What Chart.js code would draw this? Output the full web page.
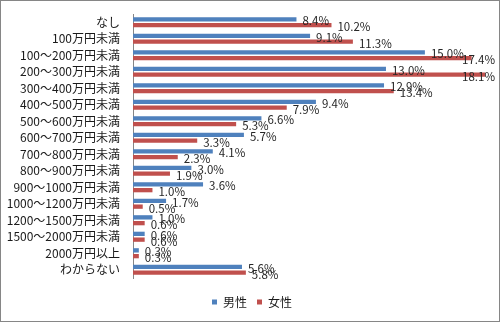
<!DOCTYPE html>
<html><head><meta charset="utf-8">
<script src="https://cdn.jsdelivr.net/npm/chart.js@4/dist/chart.umd.min.js"></script>
<style>
html,body{margin:0;padding:0;background:#fff;}
#wrap{width:498px;height:320px;border:1px solid #868686;position:relative;background:#fff;}
canvas{display:block;}
</style></head><body>
<div id="wrap"><canvas id="c" width="498" height="320"></canvas></div>
<script>
const categories = ['なし','100万円未満','100～200万円未満','200～300万円未満','300～400万円未満','400～500万円未満','500～600万円未満','600～700万円未満','700～800万円未満','800～900万円未満','900～1000万円未満','1000～1200万円未満','1200～1500万円未満','1500～2000万円未満','2000万円以上','わからない'];
const maleValues   = [8.4, 9.1, 15.0, 13.0, 12.9, 9.4, 6.6, 5.7, 4.1, 3.0, 3.6, 1.7, 1.0, 0.6, 0.3, 5.6];
const femaleValues = [10.2, 11.3, 17.4, 18.1, 13.4, 7.9, 5.3, 3.3, 2.3, 1.9, 1.0, 0.5, 0.6, 0.6, 0.3, 5.8];
const seriesNames = ['男性', '女性'];

const FONT = '"Noto Sans CJK JP", "Noto Sans", sans-serif';

const labelPlugin = {
  id: 'barLabels',
  afterDatasetsDraw(chart) {
    const ctx = chart.ctx;
    ctx.save();
    ctx.font = '11.5px ' + FONT;
    ctx.fillStyle = '#262626';
    ctx.textBaseline = 'middle';
    ctx.textAlign = 'left';
    chart.data.datasets.forEach((ds, di) => {
      const meta = chart.getDatasetMeta(di);
      meta.data.forEach((bar, i) => {
        const txt = ds.data[i].toFixed(1) + '%';
        const w = ctx.measureText(txt).width;
        let x = bar.x + 6;
        if (x + w > chart.width - 4) x = chart.width - 4 - w;
        ctx.fillText(txt, x, bar.y + 1.5);
      });
    });
    ctx.restore();
  }
};

const legendShift = {
  id: 'legendShift',
  afterLayout(chart) {
    const lg = chart.legend;
    if (!lg) return;
    lg.left += 5; lg.right += 5;
    lg.top += 8; lg.bottom += 8;
  }
};

new Chart(document.getElementById('c'), {
  type: 'bar',
  data: {
    labels: categories,
    datasets: [
      { label: seriesNames[0], data: maleValues, backgroundColor: '#4F81BD', borderWidth: 0 },
      { label: seriesNames[1], data: femaleValues, backgroundColor: '#C0504D', borderWidth: 0 }
    ]
  },
  options: {
    indexAxis: 'y',
    responsive: false,
    animation: false,
    devicePixelRatio: 1,
    categoryPercentage: 0.7,
    barPercentage: 0.75,
    layout: { padding: { top: 13, right: 6, bottom: 11, left: 0 } },
    scales: {
      x: { display: false, min: 0, max: 18.5 },
      y: {
        grid: { display: false, drawTicks: false },
        border: { display: true, color: '#868686', width: 1 },
        ticks: { color: '#1a1a1a', font: { size: 12, family: FONT }, padding: 13, autoSkip: false },
        afterFit(s) { s.width = 132; s.paddingTop = 0; s.paddingBottom = 0; }
      }
    },
    plugins: {
      legend: {
        position: 'bottom',
        labels: { boxWidth: 5, boxHeight: 5, padding: 10, color: '#1a1a1a', font: { size: 12, family: FONT } }
      },
      tooltip: { enabled: false }
    }
  },
  plugins: [labelPlugin, legendShift]
});
</script>
</body></html>
